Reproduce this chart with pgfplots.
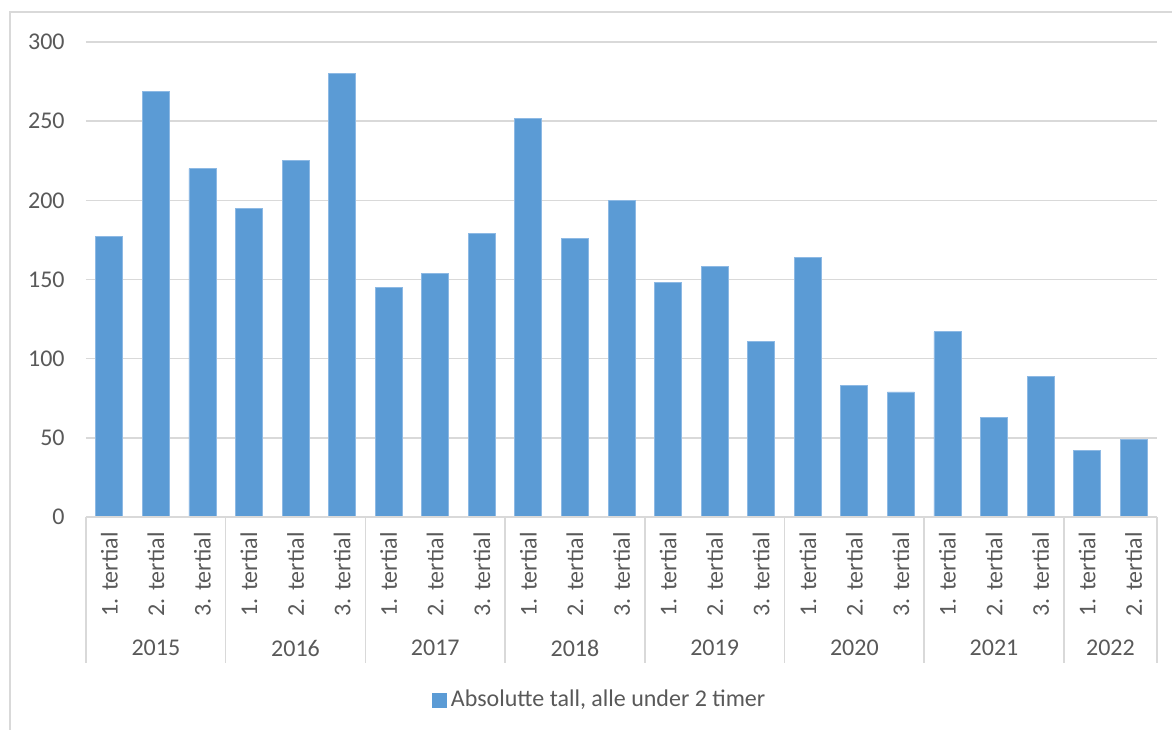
\documentclass[border=0pt]{standalone}
\usepackage{fontspec}
\setmainfont{Carlito}
\usepackage{pgfplots}
\pgfplotsset{compat=1.18}
\definecolor{barblue}{HTML}{5B9BD5}
\definecolor{baredge}{HTML}{8DB9E4}
\definecolor{gridgrey}{HTML}{D9D9D9}
\definecolor{txtgrey}{HTML}{595959}
\newcommand{\chfont}{\fontsize{12bp}{14bp}\selectfont}
\begin{document}
\begin{tikzpicture}[x=1bp,y=1bp]
\useasboundingbox (-43,-106.5) rectangle (543,258.5);
\draw[gridgrey, line width=0.75bp] (543,252.5) -- (-38,252.5) -- (-38,-106.5);
\begin{axis}[
  at={(0,0)}, anchor=south west,
  scale only axis, width=535.5bp, height=237.5bp,
  xmin=-0.5, xmax=22.5, ymin=0, ymax=300,
  ytick={0,50,100,150,200,250,300},
  xtick={0,...,22},
  xticklabels={1. tertial,2. tertial,3. tertial,1. tertial,2. tertial,3. tertial,1. tertial,2. tertial,3. tertial,1. tertial,2. tertial,3. tertial,1. tertial,2. tertial,3. tertial,1. tertial,2. tertial,3. tertial,1. tertial,2. tertial,3. tertial,1. tertial,2. tertial},
  major tick length=0pt,
  axis line style={draw=none},
  ymajorgrids, grid style={gridgrey, line width=0.75bp},
  tick label style={font=\chfont, text=txtgrey},
  /pgf/number format/assume math mode=true,
  yticklabel style={anchor=east, inner xsep=10.5bp, inner ysep=0pt},
  xticklabel style={rotate=90, anchor=east, inner xsep=7.5bp, inner ysep=0pt},
  clip=false,
  ybar, bar width=13.5bp,
  legend style={at={(0.4806,-0.3853)}, anchor=center, draw=none, fill=none, font=\chfont, text=txtgrey},
  legend image code/.code={\fill[barblue] (0bp,-3.5bp) rectangle (7bp,3.5bp);},
]
\addplot[fill=barblue, draw=baredge, line width=0.4bp, bar shift=0pt] coordinates {
(0,177) (1,269) (2,220)
(3,195) (4,225) (5,280)
(6,145) (7,154) (8,179)
(9,252) (10,176) (11,200)
(12,148) (13,158) (14,111)
(15,164) (16,83) (17,79)
(18,117) (19,63) (20,89)
(21,42) (22,49)
};
\addlegendentry{Absolutte tall, alle under 2 timer}
\draw[gridgrey, line width=0.75bp] (axis cs:-0.5,0) -- (axis cs:22.5,0);
\draw[gridgrey, line width=0.75bp] (axis cs:-0.5,0) -- ([yshift=-73bp]axis cs:-0.5,0);
\draw[gridgrey, line width=0.75bp] (axis cs:2.5,0) -- ([yshift=-73bp]axis cs:2.5,0);
\draw[gridgrey, line width=0.75bp] (axis cs:5.5,0) -- ([yshift=-73bp]axis cs:5.5,0);
\draw[gridgrey, line width=0.75bp] (axis cs:8.5,0) -- ([yshift=-73bp]axis cs:8.5,0);
\draw[gridgrey, line width=0.75bp] (axis cs:11.5,0) -- ([yshift=-73bp]axis cs:11.5,0);
\draw[gridgrey, line width=0.75bp] (axis cs:14.5,0) -- ([yshift=-73bp]axis cs:14.5,0);
\draw[gridgrey, line width=0.75bp] (axis cs:17.5,0) -- ([yshift=-73bp]axis cs:17.5,0);
\draw[gridgrey, line width=0.75bp] (axis cs:20.5,0) -- ([yshift=-73bp]axis cs:20.5,0);
\draw[gridgrey, line width=0.75bp] (axis cs:22.5,0) -- ([yshift=-73bp]axis cs:22.5,0);
\node[text=txtgrey, font=\chfont] at (axis cs:1,0) [yshift=-65.5bp] {2015};
\node[text=txtgrey, font=\chfont] at (axis cs:4,0) [yshift=-65.5bp] {2016};
\node[text=txtgrey, font=\chfont] at (axis cs:7,0) [yshift=-65.5bp] {2017};
\node[text=txtgrey, font=\chfont] at (axis cs:10,0) [yshift=-65.5bp] {2018};
\node[text=txtgrey, font=\chfont] at (axis cs:13,0) [yshift=-65.5bp] {2019};
\node[text=txtgrey, font=\chfont] at (axis cs:16,0) [yshift=-65.5bp] {2020};
\node[text=txtgrey, font=\chfont] at (axis cs:19,0) [yshift=-65.5bp] {2021};
\node[text=txtgrey, font=\chfont] at (axis cs:21.5,0) [yshift=-65.5bp] {2022};
\end{axis}
\end{tikzpicture}
\end{document}
